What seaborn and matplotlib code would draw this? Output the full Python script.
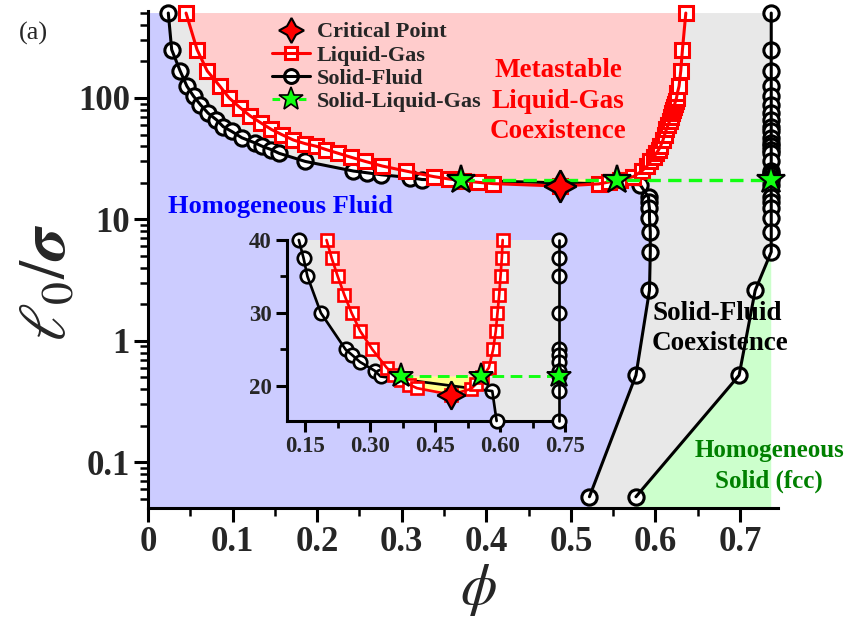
import numpy as np
import matplotlib
matplotlib.use('Agg')
import matplotlib.pyplot as plt
from matplotlib.lines import Line2D
from matplotlib.ticker import MultipleLocator, LogLocator, NullFormatter
import seaborn as sns

sns.set_style('ticks')
plt.rcParams['font.family'] = ['Liberation Serif', 'DejaVu Serif']
plt.rcParams['mathtext.fontset'] = 'stix'

# liquid-gas binodal, gas side (top -> bottom)
lg_gas_l0 = [500, 250, 167, 125, 100, 83, 71, 62, 55, 50, 45, 42, 40, 37.5, 35, 32.5, 30, 27.5,
             25, 22.5, 21.5, 20.8, 20.2, 19.7]
lg_gas_phi = [0.045, 0.058, 0.070, 0.085, 0.096, 0.109, 0.121, 0.134, 0.146, 0.158, 0.172, 0.186,
              0.199, 0.211, 0.225, 0.240, 0.257, 0.277, 0.305, 0.338, 0.356, 0.372, 0.390, 0.408]
# critical point
crit_phi = 0.487
crit_l0 = 18.8
# liquid side (bottom -> top)
lg_liq_l0 = [19.6, 20.3, 21.2, 22.5, 25, 27.5, 30, 32.5, 35, 37.5, 40, 45, 50, 55, 60, 65, 70, 75,
             80, 85, 90, 95, 100, 110, 125, 167, 250, 500]
lg_liq_phi = [0.533, 0.545, 0.558, 0.574, 0.584, 0.590, 0.594, 0.598, 0.601, 0.604, 0.606, 0.609,
              0.611, 0.613, 0.615, 0.617, 0.619, 0.620, 0.621, 0.622, 0.623, 0.624, 0.625, 0.626,
              0.628, 0.630, 0.632, 0.636]
# solid-fluid coexistence
sf_l0 = [500, 250, 167, 125, 103, 88, 75, 66, 58, 53, 47, 42.5, 40, 37.5, 35, 30, 25, 24.2, 23.3,
         22.1, 21.3, 19.3, 15.2, 14, 12.3, 10.2, 7.9, 5.4, 2.6, 0.52, 0.052]
sf_fluid_phi = [0.024, 0.028, 0.038, 0.046, 0.054, 0.062, 0.071, 0.081, 0.089, 0.099, 0.111, 0.127,
                0.135, 0.146, 0.155, 0.186, 0.243, 0.259, 0.276, 0.310, 0.324, 0.582, 0.592, 0.592,
                0.593, 0.593, 0.594, 0.594, 0.593, 0.577, 0.522]
sf_solid_phi = [0.737] * 28 + [0.718, 0.699, 0.577]
# solid-liquid-gas triple line
tp_phi = [0.37, 0.555, 0.737]
tp_l0 = 21.3

BLUE, GREY, PINK, GREEN, YELLOW = '#CCCCFF', '#E8E8E8', '#FFCCCC', '#CCFFCC', '#FFFF8C'
LIME = '#11FF11'
ybot = 0.042

lg_phi = lg_gas_phi + [crit_phi] + lg_liq_phi
lg_l0 = lg_gas_l0 + [crit_l0] + lg_liq_l0


def fills(ax, with_blue=True):
    fl = list(zip(sf_fluid_phi, sf_l0))
    so = list(zip(sf_solid_phi, sf_l0))
    if with_blue:
        poly = [(0, ybot), (0, 500)] + fl + [(sf_fluid_phi[-1], ybot)]
        ax.fill(*zip(*poly), color=BLUE, lw=0, zorder=0)
    poly = fl + [(sf_fluid_phi[-1], ybot), (sf_solid_phi[-1], ybot)] + so[::-1]
    ax.fill(*zip(*poly), color=GREY, lw=0, zorder=0.1)
    poly = [p for p in so if p[1] <= 5.4] + [(sf_solid_phi[-1], ybot), (0.737, ybot)]
    ax.fill(*zip(*poly), color=GREEN, lw=0, zorder=0.1)
    up = ([p for p in zip(lg_gas_phi, lg_gas_l0) if p[1] >= tp_l0] + [(tp_phi[0], tp_l0), (tp_phi[1], tp_l0)]
          + [p for p in zip(lg_liq_phi, lg_liq_l0) if p[1] >= tp_l0])
    ax.fill(*zip(*up), color=PINK, lw=0, zorder=0.2)
    low = [(tp_phi[0], tp_l0)] + [p for p in zip(lg_phi, lg_l0) if p[1] < tp_l0] + [(tp_phi[1], tp_l0)]
    ax.fill(*zip(*low), color=YELLOW, lw=0, zorder=0.2)


def sub(xs, ys, lo, hi):
    keep = [(x, y) for x, y in zip(xs, ys) if lo - 1e-6 <= y <= hi + 1e-6]
    return [k[0] for k in keep], [k[1] for k in keep]


def series(ax, x, y, color, marker, ms, lw, z):
    ax.plot(x, y, ls='none', marker=marker, ms=ms, mfc='white', mec=color, mew=lw, zorder=z, clip_on=False)
    sns.lineplot(x=x, y=y, sort=False, estimator=None, color=color, lw=lw, ax=ax, zorder=z + 0.5, clip_on=False)


def curves(ax, lo, hi, k):
    x, y = sub(sf_fluid_phi, sf_l0, lo, hi)
    series(ax, x, y, 'black', 'o', 11 * k, 2.2 * k, 3)
    x, y = sub(sf_solid_phi, sf_l0, lo, hi)
    series(ax, x, y, 'black', 'o', 11 * k, 2.2 * k, 3)
    x, y = sub(lg_phi, lg_l0, lo, hi)
    series(ax, x, y, 'red', 's', 9.5 * k, 2.2 * k, 4)
    ax.plot(tp_phi, [tp_l0] * 3, color=LIME, ls=(0, (4, 2.2)), lw=2.4 * k, zorder=5, clip_on=False)
    ax.plot(tp_phi, [tp_l0] * 3, ls='none', marker='*', ms=21 * k, mfc=LIME, mec='black', mew=1.6 * k,
            zorder=6, clip_on=False)
    ax.plot([crit_phi], [crit_l0], ls='none', marker=(4, 1, 0), ms=23 * k, mfc='red', mec='black',
            mew=1.8 * k, zorder=6, clip_on=False)


fig = plt.figure(figsize=(8.51, 6.2), dpi=100)
ax = fig.add_axes([148 / 851, 112 / 620, 630 / 851, 497 / 620])
ax.set_yscale('log')
ax.set_xlim(0, 0.745)
ax.set_ylim(ybot, 520)
fills(ax)
curves(ax, 0, 1000, 1.0)

sns.despine(ax=ax)
for s in ['left', 'bottom']:
    ax.spines[s].set_linewidth(2.2)
    ax.spines[s].set_color('black')
ax.set_xticks(np.arange(0, 0.71, 0.1), ['0', '0.1', '0.2', '0.3', '0.4', '0.5', '0.6', '0.7'],
              fontweight='bold', fontsize=25)
ax.xaxis.set_minor_locator(MultipleLocator(0.05))
ax.set_yticks([0.1, 1, 10, 100], ['0.1', '1', '10', '100'], fontweight='bold', fontsize=25)
ax.yaxis.set_minor_locator(LogLocator(base=10, subs=np.arange(2, 10)))
ax.yaxis.set_minor_formatter(NullFormatter())
ax.tick_params(which='major', direction='out', length=10, width=2.2, color='black', pad=3)
ax.tick_params(which='minor', direction='out', length=5.5, width=1.8, color='black')
ax.grid(False)

leg = ax.legend(
    [Line2D([], [], ls='none', marker=(4, 1, 0), ms=18, mfc='red', mec='black', mew=1.5),
     (Line2D([], [], ls='none', marker='s', ms=9, mfc='white', mec='red', mew=2.2), Line2D([], [], color='red', lw=2.2)),
     (Line2D([], [], ls='none', marker='o', ms=10, mfc='white', mec='black', mew=2.2), Line2D([], [], color='black', lw=2.2)),
     Line2D([], [], color=LIME, ls=(0, (2.5, 1.8)), lw=2.2, marker='*', ms=18, mfc=LIME, mec='black', mew=1.2)],
    ['Critical Point', 'Liquid-Gas', 'Solid-Fluid', 'Solid-Liquid-Gas'],
    loc='upper left', bbox_to_anchor=(0.197, 0.978), frameon=False, borderaxespad=0, borderpad=0,
    handlelength=1.7, handletextpad=0.3, labelspacing=0.12, numpoints=1,
    prop={'family': 'Liberation Serif', 'weight': 'bold', 'size': 16})
leg.set_zorder(10)

ax.text(0.485, 94, 'Metastable\nLiquid-Gas\nCoexistence', color='red', fontsize=19.5, fontweight='bold',
        ha='center', va='center', linespacing=1.28, zorder=7)
ax.text(0.024, 12.7, 'Homogeneous Fluid', color='#0000FF', fontsize=19, fontweight='bold',
        ha='left', va='center', zorder=7)
ax.text(0.596, 1.27, 'Solid-Fluid\nCoexistence', color='black', fontsize=19.5, fontweight='bold',
        ha='left', va='center', linespacing=1.25, zorder=7)
ax.text(0.7345, 0.093, 'Homogeneous\nSolid (fcc)', color='#008000', fontsize=18, fontweight='bold',
        ha='center', va='center', linespacing=1.45, zorder=7)

fig.text(33 / 851, 1 - 33 / 620, '(a)', fontsize=19, ha='center', va='center')
fig.text(50 / 851, 1 - 283 / 620, r'$\ell_0/\mathbfit{\sigma}$', fontsize=47, rotation=90,
         ha='center', va='center')
fig.text(478 / 851, 1 - 590 / 620, r'$\phi$', fontsize=42, ha='center', va='center')

# inset
axin = fig.add_axes([286.7 / 851, (620 - 421) / 620, (565 - 286.7) / 851, (421 - 240) / 620])
axin.set_facecolor(BLUE)
axin.set_xlim(0.107, 0.75)
axin.set_ylim(15.2, 40)
fills(axin, with_blue=False)
curves(axin, 15.2, 40, 0.88)
sns.despine(ax=axin)
for s in ['left', 'bottom']:
    axin.spines[s].set_linewidth(2.2)
    axin.spines[s].set_color('black')
axin.set_xticks([0.15, 0.30, 0.45, 0.60, 0.75], ['0.15', '0.30', '0.45', '0.60', '0.75'],
                fontweight='bold', fontsize=16.5)
axin.xaxis.set_minor_locator(MultipleLocator(0.075))
axin.set_yticks([20, 30, 40], ['20', '30', '40'], fontweight='bold', fontsize=16.5)
axin.yaxis.set_minor_locator(MultipleLocator(5))
axin.tick_params(which='major', direction='out', length=8, width=2.2, color='black', pad=3)
axin.tick_params(which='minor', direction='out', length=5, width=2, color='black')
axin.grid(False)

fig.savefig('out.png', dpi=100)
